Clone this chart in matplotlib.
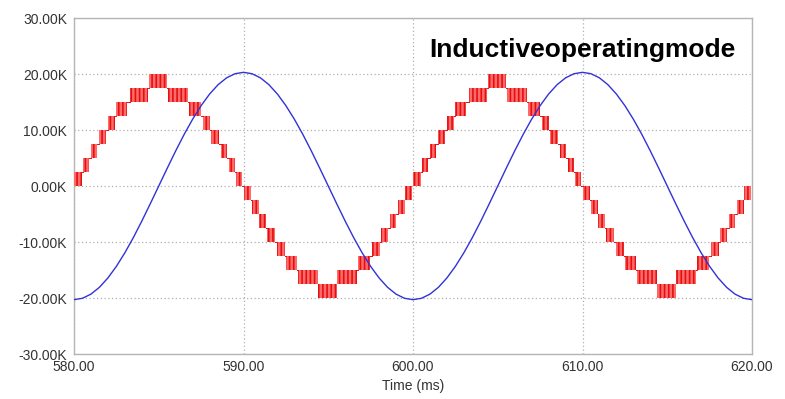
import matplotlib
matplotlib.use("Agg")
import matplotlib.pyplot as plt
import numpy as np

plt.rcParams['font.family'] = ['Liberation Sans', 'DejaVu Sans']
plt.rcParams['hatch.linewidth'] = 1.2

# Blue sinusoid (values in K), sampled every 0.5 ms from 580 to 620 ms
blue_t = [580.0 + 0.5 * i for i in range(81)]
blue_v = [-20.3, -20.05, -19.31, -18.09, -16.42, -14.35, -11.93, -9.22, -6.27, -3.17,
          0.0, 3.17, 6.27, 9.22, 11.93, 14.35, 16.42, 18.09, 19.31, 20.05,
          20.3, 20.05, 19.31, 18.09, 16.42, 14.35, 11.93, 9.22, 6.27, 3.17,
          0.0, -3.17, -6.27, -9.22, -11.93, -14.35, -16.42, -18.09, -19.31, -20.05,
          -20.3, -20.05, -19.31, -18.09, -16.42, -14.35, -11.93, -9.22, -6.27, -3.17,
          0.0, 3.17, 6.27, 9.22, 11.93, 14.35, 16.42, 18.09, 19.31, 20.05,
          20.3, 20.05, 19.31, 18.09, 16.42, 14.35, 11.93, 9.22, 6.27, 3.17,
          0.0, -3.17, -6.27, -9.22, -11.93, -14.35, -16.42, -18.09, -19.31, -20.05,
          -20.3]

# Red multilevel PWM waveform: switching bands within one period (ms, K)
band_start = [580.00, 580.55, 580.99, 581.49, 582.02, 582.48, 583.30, 584.44,
              585.56, 586.78, 587.59, 588.10, 588.65, 589.12, 589.55,
              590.00, 590.48, 590.93, 591.40, 591.96, 592.50, 593.23, 594.41,
              595.53, 596.77, 597.56, 598.12, 598.65, 599.12, 599.55]
band_end = [580.45, 580.90, 581.37, 581.89, 582.42, 583.10, 584.38, 585.50,
            586.74, 587.50, 588.02, 588.55, 589.00, 589.50, 589.90,
            590.45, 590.91, 591.33, 591.86, 592.45, 593.14, 594.37, 595.50,
            596.68, 597.46, 598.05, 598.55, 599.00, 599.50, 599.92]
band_low = [0, 2.5, 5, 7.5, 10, 12.5, 15, 17.5,
            15, 12.5, 10, 7.5, 5, 2.5, 0,
            -2.5, -5, -7.5, -10, -12.5, -15, -17.5, -20,
            -17.5, -15, -12.5, -10, -7.5, -5, -2.5]
band_step = 2.5
cycle_offsets = [0.0, 20.0]

x_ticks = [580, 590, 600, 610, 620]
x_labels = ['580.00', '590.00', '600.00', '610.00', '620.00']
y_ticks = [-30, -20, -10, 0, 10, 20, 30]
y_labels = ['-30.00K', '-20.00K', '-10.00K', '0.00K', '10.00K', '20.00K', '30.00K']

fig = plt.figure(figsize=(7.85, 3.99), dpi=100)
ax = fig.add_axes([74 / 785, 45 / 399, (752 - 74) / 785, (354 - 18) / 399])

for off in cycle_offsets:
    s = np.array(band_start) + off
    e = np.array(band_end) + off
    lo = np.array(band_low, dtype=float)
    ax.bar(s, np.full(len(s), band_step), width=e - s, bottom=lo, align='edge',
           facecolor='#ff6a6a', edgecolor='#e41010', hatch='||||',
           linewidth=0, zorder=3)
    # thin connecting segments between successive bands
    for i in range(len(s) - 1):
        hi_i = lo[i] + band_step
        if abs(lo[i + 1] - hi_i) < 1e-6:
            lvl = hi_i
        else:
            lvl = lo[i]
        ax.plot([e[i], s[i + 1]], [lvl, lvl], color='#e41010', lw=0.7, zorder=3)

ax.plot(blue_t, blue_v, color='#3232d6', lw=1.0, zorder=4)

ax.set_xlim(580, 620)
ax.set_ylim(-30, 30)
ax.set_xticks(x_ticks)
ax.set_xticklabels(x_labels)
ax.set_yticks(y_ticks)
ax.set_yticklabels(y_labels)
ax.tick_params(length=0, labelsize=10, colors='#333333', pad=5)
ax.tick_params(axis='x', pad=4)
ax.grid(True, color='#b0b0b0', linestyle=(0, (1, 2)), linewidth=0.9, zorder=1)
for sp in ax.spines.values():
    sp.set_color('#b5b5b5')
    sp.set_linewidth(1.0)
ax.set_xlabel('Time (ms)', fontsize=10, color='#333333', labelpad=4)

ax.text(600.95, 23.1, 'Inductiveoperatingmode', fontsize=19, fontweight='bold',
        ha='left', va='baseline', color='black', zorder=5)

fig.savefig('out.png', dpi=100)
